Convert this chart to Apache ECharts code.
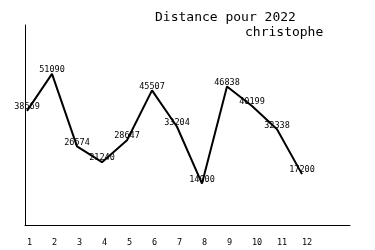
<!DOCTYPE html>
<html>
<head>
<meta charset="utf-8">
<script src="https://cdn.jsdelivr.net/npm/echarts@6/dist/echarts.min.js"></script>
<style>html,body{margin:0;padding:0;background:#fff;}#c{width:375px;height:250px;}</style>
</head>
<body>
<div id="c"></div>
<script>
var months = [1, 2, 3, 4, 5, 6, 7, 8, 9, 10, 11, 12];
var distances = [38569, 51090, 26574, 21240, 28647, 45507, 33204, 14000, 46838, 40199, 32338, 17200];
var titleLine1 = 'Distance pour 2022';
var titleLine2 = 'christophe';

var FONT = '"DejaVu Sans Mono", "Liberation Mono", monospace';
var chart = echarts.init(document.getElementById('c'), null, {renderer: 'canvas'});
var seriesData = months.map(function (m, i) { return [m, distances[i]]; });
chart.setOption({
  animation: false,
  backgroundColor: '#ffffff',
  title: [
    {text: titleLine1, left: 155, top: 11, padding: 0,
     textStyle: {fontFamily: FONT, fontSize: 13, fontWeight: 'normal', color: '#000', lineHeight: 14}},
    {text: titleLine2, left: 245, top: 26, padding: 0,
     textStyle: {fontFamily: FONT, fontSize: 13, fontWeight: 'normal', color: '#000', lineHeight: 14}}
  ],
  grid: {left: 25, right: 25, top: 25, bottom: 25, containLabel: false},
  xAxis: {
    type: 'value', min: 0.92, max: 13.92,
    axisLine: {show: true, onZero: false, lineStyle: {color: '#000', width: 1}},
    axisTick: {show: false},
    splitLine: {show: false},
    axisLabel: {
      customValues: months, align: 'left', margin: 13,
      fontFamily: FONT, fontSize: 8.5, color: '#000', lineHeight: 10
    }
  },
  yAxis: {
    type: 'value', min: 0, max: 67600,
    axisLine: {show: true, onZero: false, lineStyle: {color: '#000', width: 1}},
    axisTick: {show: false},
    axisLabel: {show: false},
    splitLine: {show: false}
  },
  series: [{
    type: 'line',
    data: seriesData,
    showSymbol: true,
    symbol: 'circle',
    symbolSize: 0,
    itemStyle: {color: '#000', opacity: 0},
    lineStyle: {color: '#000', width: 2, opacity: 1},
    label: {
      show: true, position: 'top', distance: -1,
      fontFamily: FONT, fontSize: 8.5, color: '#000', lineHeight: 10, opacity: 1,
      formatter: function (p) { return String(p.value[1]); }
    }
  }]
});
</script>
</body>
</html>
